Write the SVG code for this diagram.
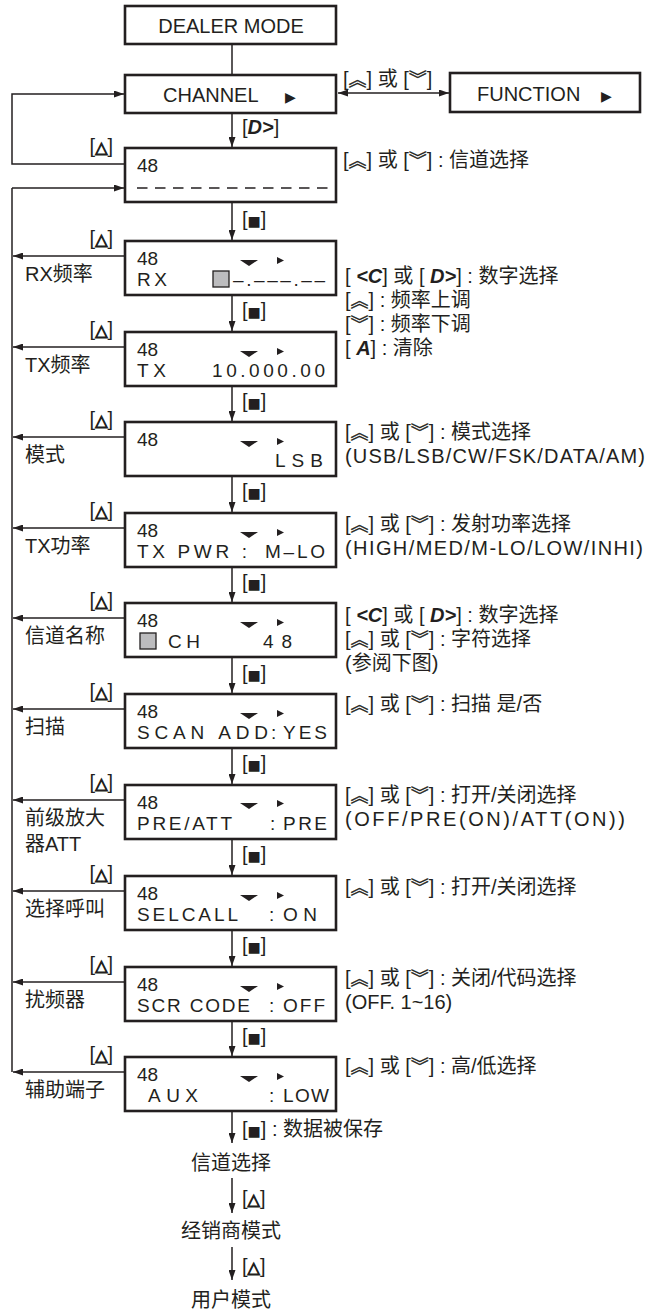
<svg xmlns="http://www.w3.org/2000/svg" width="659" height="1313" viewBox="0 0 659 1313">
<style>
.box{fill:#fff;stroke:#231f20;stroke-width:2.6}
.ln{fill:none;stroke:#231f20;stroke-width:1.5}
.t{font-family:"Liberation Sans","Noto Sans CJK SC",sans-serif;fill:#231f20}
.hd{font-size:20px}
.lcd{font-size:19px}
.an{font-size:20px}
.lb{font-size:20px}
.sym{font-family:"Noto Sans CJK SC",sans-serif;font-size:18px;stroke:#231f20;stroke-width:0.35}
.bi{font-weight:bold;font-style:italic}
.tri{font-family:"DejaVu Sans",sans-serif;font-weight:bold;font-size:16px;stroke:#231f20;stroke-width:1}
.blk{font-family:"DejaVu Sans",sans-serif;font-size:14px}
.ind{fill:#231f20}
.sq{fill:#bcbcbe;stroke:#231f20;stroke-width:1.3}
</style>
<defs>
<marker id="ah" viewBox="0 0 10 7" refX="10" refY="3.5" markerWidth="11" markerHeight="7" markerUnits="userSpaceOnUse" orient="auto-start-reverse"><path d="M0,0L10,3.5L0,7z" fill="#231f20"/></marker>
</defs>

<g id="connectors">
<line class="ln" x1="232" y1="44" x2="232" y2="75"/>
<line class="ln" x1="338" y1="93" x2="449" y2="93" marker-start="url(#ah)" marker-end="url(#ah)"/>
<line class="ln" x1="232" y1="113" x2="232" y2="147" marker-end="url(#ah)"/>
<polyline class="ln" points="125,164 12,164 12,94 124,94" marker-end="url(#ah)"/>
<line class="ln" x1="12" y1="188" x2="12" y2="1072"/>
<line class="ln" x1="12" y1="188" x2="124" y2="188" marker-end="url(#ah)"/>
<line class="ln" x1="125" y1="256" x2="13" y2="256" marker-end="url(#ah)"/>
<line class="ln" x1="125" y1="347" x2="13" y2="347" marker-end="url(#ah)"/>
<line class="ln" x1="125" y1="437" x2="13" y2="437" marker-end="url(#ah)"/>
<line class="ln" x1="125" y1="528" x2="13" y2="528" marker-end="url(#ah)"/>
<line class="ln" x1="125" y1="618" x2="13" y2="618" marker-end="url(#ah)"/>
<line class="ln" x1="125" y1="709" x2="13" y2="709" marker-end="url(#ah)"/>
<line class="ln" x1="125" y1="800" x2="13" y2="800" marker-end="url(#ah)"/>
<line class="ln" x1="125" y1="891" x2="13" y2="891" marker-end="url(#ah)"/>
<line class="ln" x1="125" y1="982" x2="13" y2="982" marker-end="url(#ah)"/>
<line class="ln" x1="125" y1="1072" x2="13" y2="1072" marker-end="url(#ah)"/>
<line class="ln" x1="232" y1="202" x2="232" y2="240" marker-end="url(#ah)"/>
<line class="ln" x1="232" y1="295" x2="232" y2="331" marker-end="url(#ah)"/>
<line class="ln" x1="232" y1="386" x2="232" y2="421" marker-end="url(#ah)"/>
<line class="ln" x1="232" y1="476" x2="232" y2="512" marker-end="url(#ah)"/>
<line class="ln" x1="232" y1="567" x2="232" y2="602" marker-end="url(#ah)"/>
<line class="ln" x1="232" y1="657" x2="232" y2="693" marker-end="url(#ah)"/>
<line class="ln" x1="232" y1="748" x2="232" y2="784" marker-end="url(#ah)"/>
<line class="ln" x1="232" y1="839" x2="232" y2="875" marker-end="url(#ah)"/>
<line class="ln" x1="232" y1="930" x2="232" y2="966" marker-end="url(#ah)"/>
<line class="ln" x1="232" y1="1021" x2="232" y2="1056" marker-end="url(#ah)"/>
<line class="ln" x1="232" y1="1111" x2="232" y2="1143" marker-end="url(#ah)"/>
<line class="ln" x1="232" y1="1178" x2="232" y2="1213" marker-end="url(#ah)"/>
<line class="ln" x1="232" y1="1247" x2="232" y2="1280" marker-end="url(#ah)"/>
</g>

<g id="edge-labels" class="t">
<text class="an" x="343" y="86"><tspan>[</tspan><tspan class="sym">︽</tspan><tspan>] 或 [</tspan><tspan class="sym">︾</tspan><tspan>]</tspan></text>
<text class="an" x="242" y="134">[<tspan class="bi">D&gt;</tspan>]</text>
<text class="an" x="113" y="153" text-anchor="end">[<tspan class="tri">△</tspan>]</text>
<text class="an" x="113" y="245" text-anchor="end">[<tspan class="tri">△</tspan>]</text>
<text class="an" x="113" y="336" text-anchor="end">[<tspan class="tri">△</tspan>]</text>
<text class="an" x="113" y="426" text-anchor="end">[<tspan class="tri">△</tspan>]</text>
<text class="an" x="113" y="517" text-anchor="end">[<tspan class="tri">△</tspan>]</text>
<text class="an" x="113" y="607" text-anchor="end">[<tspan class="tri">△</tspan>]</text>
<text class="an" x="113" y="698" text-anchor="end">[<tspan class="tri">△</tspan>]</text>
<text class="an" x="113" y="789" text-anchor="end">[<tspan class="tri">△</tspan>]</text>
<text class="an" x="113" y="880" text-anchor="end">[<tspan class="tri">△</tspan>]</text>
<text class="an" x="113" y="971" text-anchor="end">[<tspan class="tri">△</tspan>]</text>
<text class="an" x="113" y="1061" text-anchor="end">[<tspan class="tri">△</tspan>]</text>
<text class="an" x="242" y="226">[<tspan class="blk">■</tspan>]</text>
<text class="an" x="242" y="317">[<tspan class="blk">■</tspan>]</text>
<text class="an" x="242" y="408">[<tspan class="blk">■</tspan>]</text>
<text class="an" x="242" y="498">[<tspan class="blk">■</tspan>]</text>
<text class="an" x="242" y="589">[<tspan class="blk">■</tspan>]</text>
<text class="an" x="242" y="680">[<tspan class="blk">■</tspan>]</text>
<text class="an" x="242" y="770">[<tspan class="blk">■</tspan>]</text>
<text class="an" x="242" y="861">[<tspan class="blk">■</tspan>]</text>
<text class="an" x="242" y="952">[<tspan class="blk">■</tspan>]</text>
<text class="an" x="242" y="1043">[<tspan class="blk">■</tspan>]</text>
<text class="an" x="242" y="1136">[<tspan class="blk">■</tspan>] : 数据被保存</text>
<text class="an" x="242" y="1205">[<tspan class="tri">△</tspan>]</text>
<text class="an" x="242" y="1273">[<tspan class="tri">△</tspan>]</text>
</g>

<g id="n-dealer">
<rect class="box" x="125" y="6" width="211" height="38"/>
<text class="t hd" x="231" y="33" text-anchor="middle">DEALER MODE</text>
</g>
<g id="n-channel">
<rect class="box" x="125" y="75" width="211" height="38"/>
<text class="t hd" x="163" y="102">CHANNEL<tspan class="blk" x="285" font-size="13">▶</tspan></text>
</g>
<g id="n-function">
<rect class="box" x="450" y="73" width="190" height="39"/>
<text class="t hd" x="477" y="101">FUNCTION<tspan class="blk" x="601" font-size="13">▶</tspan></text>
</g>

<g id="n-ch">
<rect class="box" x="125" y="148" width="211" height="54"/>
<text class="t lcd" x="137" y="172">48</text>
<line x1="137" y1="188" x2="328" y2="188" stroke="#231f20" stroke-width="1.6" stroke-dasharray="10.5 7.5"/>
<text class="t an" x="343" y="167"><tspan>[</tspan><tspan class="sym">︽</tspan><tspan>] 或 [</tspan><tspan class="sym">︾</tspan><tspan>] : 信道选择</tspan></text>
</g>

<g id="n-rx">
<rect class="box" x="125" y="241" width="211" height="54"/>
<text class="t lcd" x="137" y="265">48</text>
<text class="t lcd" x="137" y="286" textLength="30" lengthAdjust="spacing">RX</text>
<rect class="sq" x="213" y="271" width="16" height="16"/>
<text class="t lcd" x="233" y="286" textLength="92" lengthAdjust="spacing">–.–––.––</text>
<polygon class="ind" points="240,260 258,260 249,266"/>
<polygon class="ind" points="277,257 284,260.5 277,264"/>
<text class="t lb" x="25" y="281">RX频率</text>
<text class="t an" x="345" y="283">[ <tspan class="bi">&lt;C</tspan>] 或 [ <tspan class="bi">D&gt;</tspan>] : 数字选择</text>
<text class="t an" x="345" y="307"><tspan>[</tspan><tspan class="sym">︽</tspan><tspan>] : 频率上调</tspan></text>
<text class="t an" x="345" y="331"><tspan>[</tspan><tspan class="sym">︾</tspan><tspan>] : 频率下调</tspan></text>
<text class="t an" x="345" y="355">[ <tspan class="bi">A</tspan>] : 清除</text>
</g>

<g id="n-tx">
<rect class="box" x="125" y="332" width="211" height="54"/>
<text class="t lcd" x="137" y="356">48</text>
<text class="t lcd" x="137" y="377" textLength="29" lengthAdjust="spacing">TX</text>
<text class="t lcd" x="212" y="377" textLength="113" lengthAdjust="spacing">10.000.00</text>
<polygon class="ind" points="240,351 258,351 249,357"/>
<polygon class="ind" points="277,348 284,351.5 277,355"/>
<text class="t lb" x="25" y="372">TX频率</text>
</g>

<g id="n-mode">
<rect class="box" x="125" y="422" width="211" height="54"/>
<text class="t lcd" x="137" y="446">48</text>
<text class="t lcd" x="275" y="467" textLength="48" lengthAdjust="spacing">LSB</text>
<polygon class="ind" points="240,441 258,441 249,447"/>
<polygon class="ind" points="277,438 284,441.5 277,445"/>
<text class="t lb" x="25" y="462">模式</text>
<text class="t an" x="345" y="439"><tspan>[</tspan><tspan class="sym">︽</tspan><tspan>] 或 [</tspan><tspan class="sym">︾</tspan><tspan>] : 模式选择</tspan></text>
<text class="t an" x="345" y="463" textLength="300" lengthAdjust="spacing">(USB/LSB/CW/FSK/DATA/AM)</text>
</g>

<g id="n-txpwr">
<rect class="box" x="125" y="513" width="211" height="54"/>
<text class="t lcd" x="137" y="537">48</text>
<text class="t lcd" x="137" y="558" textLength="110" lengthAdjust="spacing">TX PWR :</text>
<text class="t lcd" x="265" y="558" textLength="60" lengthAdjust="spacing">M–LO</text>
<polygon class="ind" points="240,532 258,532 249,538"/>
<polygon class="ind" points="277,529 284,532.5 277,536"/>
<text class="t lb" x="25" y="553">TX功率</text>
<text class="t an" x="345" y="531"><tspan>[</tspan><tspan class="sym">︽</tspan><tspan>] 或 [</tspan><tspan class="sym">︾</tspan><tspan>] : 发射功率选择</tspan></text>
<text class="t an" x="345" y="555" textLength="298" lengthAdjust="spacing">(HIGH/MED/M-LO/LOW/INHI)</text>
</g>

<g id="n-chname">
<rect class="box" x="125" y="603" width="211" height="54"/>
<text class="t lcd" x="137" y="627">48</text>
<rect class="sq" x="140" y="633" width="16" height="16"/>
<text class="t lcd" x="168" y="648" textLength="32" lengthAdjust="spacing">CH</text>
<text class="t lcd" x="263" y="648" textLength="29" lengthAdjust="spacing">48</text>
<polygon class="ind" points="240,622 258,622 249,628"/>
<polygon class="ind" points="277,619 284,622.5 277,626"/>
<text class="t lb" x="25" y="643">信道名称</text>
<text class="t an" x="345" y="622">[ <tspan class="bi">&lt;C</tspan>] 或 [ <tspan class="bi">D&gt;</tspan>] : 数字选择</text>
<text class="t an" x="345" y="646"><tspan>[</tspan><tspan class="sym">︽</tspan><tspan>] 或 [</tspan><tspan class="sym">︾</tspan><tspan>] : 字符选择</tspan></text>
<text class="t an" x="345" y="670">(参阅下图)</text>
</g>

<g id="n-scan">
<rect class="box" x="125" y="694" width="211" height="54"/>
<text class="t lcd" x="137" y="718">48</text>
<text class="t lcd" x="137" y="739" textLength="131" lengthAdjust="spacing">SCAN ADD</text>
<text class="t lcd" x="271" y="739">:</text>
<text class="t lcd" x="283" y="739" textLength="44" lengthAdjust="spacing">YES</text>
<polygon class="ind" points="240,713 258,713 249,719"/>
<polygon class="ind" points="277,710 284,713.5 277,717"/>
<text class="t lb" x="25" y="734">扫描</text>
<text class="t an" x="345" y="711"><tspan>[</tspan><tspan class="sym">︽</tspan><tspan>] 或 [</tspan><tspan class="sym">︾</tspan><tspan>] : 扫描 是/否</tspan></text>
</g>

<g id="n-preatt">
<rect class="box" x="125" y="785" width="211" height="54"/>
<text class="t lcd" x="137" y="809">48</text>
<text class="t lcd" x="137" y="830" textLength="95" lengthAdjust="spacing">PRE/ATT</text>
<text class="t lcd" x="270" y="830">:</text>
<text class="t lcd" x="283" y="830" textLength="44" lengthAdjust="spacing">PRE</text>
<polygon class="ind" points="240,803 258,803 249,809"/>
<polygon class="ind" points="277,800 284,803.5 277,807"/>
<text class="t lb" x="25" y="825">前级放大</text>
<text class="t lb" x="25" y="851">器ATT</text>
<text class="t an" x="345" y="802"><tspan>[</tspan><tspan class="sym">︽</tspan><tspan>] 或 [</tspan><tspan class="sym">︾</tspan><tspan>] : 打开/关闭选择</tspan></text>
<text class="t an" x="345" y="826" textLength="280" lengthAdjust="spacing">(OFF/PRE(ON)/ATT(ON))</text>
</g>

<g id="n-selcall">
<rect class="box" x="125" y="876" width="211" height="54"/>
<text class="t lcd" x="137" y="900">48</text>
<text class="t lcd" x="137" y="921" textLength="101" lengthAdjust="spacing">SELCALL</text>
<text class="t lcd" x="269" y="921">:</text>
<text class="t lcd" x="283" y="921" textLength="34" lengthAdjust="spacing">ON</text>
<polygon class="ind" points="240,895 258,895 249,901"/>
<polygon class="ind" points="277,892 284,895.5 277,899"/>
<text class="t lb" x="25" y="916">选择呼叫</text>
<text class="t an" x="345" y="894"><tspan>[</tspan><tspan class="sym">︽</tspan><tspan>] 或 [</tspan><tspan class="sym">︾</tspan><tspan>] : 打开/关闭选择</tspan></text>
</g>

<g id="n-scr">
<rect class="box" x="125" y="967" width="211" height="54"/>
<text class="t lcd" x="137" y="991">48</text>
<text class="t lcd" x="137" y="1012" textLength="113" lengthAdjust="spacing">SCR CODE</text>
<text class="t lcd" x="269" y="1012">:</text>
<text class="t lcd" x="283" y="1012" textLength="42" lengthAdjust="spacing">OFF</text>
<polygon class="ind" points="240,986 258,986 249,992"/>
<polygon class="ind" points="277,983 284,986.5 277,990"/>
<text class="t lb" x="25" y="1007">扰频器</text>
<text class="t an" x="345" y="985"><tspan>[</tspan><tspan class="sym">︽</tspan><tspan>] 或 [</tspan><tspan class="sym">︾</tspan><tspan>] : 关闭/代码选择</tspan></text>
<text class="t an" x="345" y="1009">(OFF. 1~16)</text>
</g>

<g id="n-aux">
<rect class="box" x="125" y="1057" width="211" height="54"/>
<text class="t lcd" x="137" y="1081">48</text>
<text class="t lcd" x="148" y="1102" textLength="50" lengthAdjust="spacing">AUX</text>
<text class="t lcd" x="269" y="1102">:</text>
<text class="t lcd" x="283" y="1102" textLength="46" lengthAdjust="spacing">LOW</text>
<polygon class="ind" points="240,1076 258,1076 249,1082"/>
<polygon class="ind" points="277,1073 284,1076.5 277,1080"/>
<text class="t lb" x="25" y="1097">辅助端子</text>
<text class="t an" x="345" y="1073"><tspan>[</tspan><tspan class="sym">︽</tspan><tspan>] 或 [</tspan><tspan class="sym">︾</tspan><tspan>] : 高/低选择</tspan></text>
</g>

<g id="n-chsel"><text class="t lb" x="231" y="1170" text-anchor="middle">信道选择</text></g>
<g id="n-dealer2"><text class="t lb" x="231" y="1238" text-anchor="middle">经销商模式</text></g>
<g id="n-user"><text class="t lb" x="231" y="1307" text-anchor="middle">用户模式</text></g>
</svg>
